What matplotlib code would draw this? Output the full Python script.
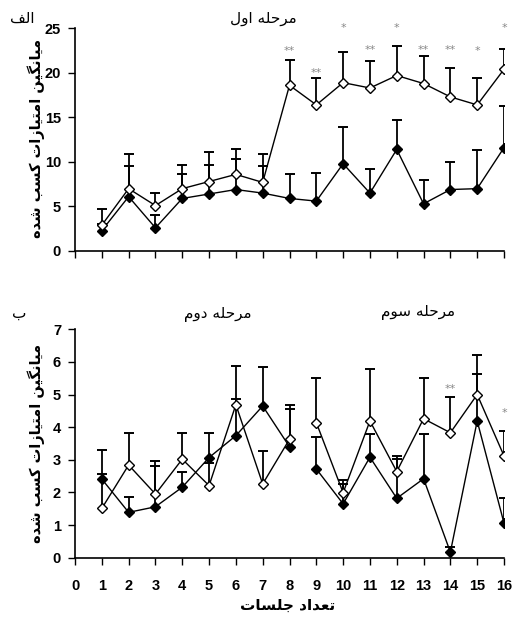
import numpy as np
import matplotlib
matplotlib.use("Agg")
import matplotlib.pyplot as plt

# ---------------- data ----------------
sessions = np.arange(1, 17)
x_ticks = np.arange(0, 17)

top_open = [2.9, 7.0, 5.1, 7.0, 7.8, 8.6, 7.7, 18.6, 16.4, 18.9, 18.3, 19.7, 18.8, 17.3, 16.4, 20.4]
top_open_upper = [4.7, 10.9, 6.5, 9.7, 11.1, 11.4, 10.9, 21.4, 19.4, 22.3, 21.3, 23.0, 21.9, 20.5, 19.4, 22.7]
top_filled = [2.3, 6.1, 2.6, 5.9, 6.4, 6.9, 6.5, 5.9, 5.6, 9.8, 6.5, 11.4, 5.3, 6.9, 7.0, 11.6]
top_filled_upper = [3.0, 9.5, 4.0, 8.6, 9.7, 10.3, 9.5, 8.6, 8.75, 13.9, 9.2, 14.7, 8.0, 10.0, 11.3, 16.3]

bot_open = [1.51, 2.84, 1.95, 3.02, 2.21, 4.69, 2.26, 3.63, 4.14, 1.99, 4.19, 2.64, 4.26, 3.83, 5.0, 3.12]
bot_open_upper = [2.55, 3.83, 2.97, 3.83, 2.89, 5.87, 3.28, 4.69, 5.51, 2.38, 5.77, 3.12, 5.51, 4.91, 6.2, 3.88]
bot_filled = [2.41, 1.39, 1.56, 2.16, 3.07, 3.74, 4.65, 3.40, 2.72, 1.65, 3.08, 1.82, 2.42, 0.17, 4.19, 1.06]
bot_filled_upper = [3.31, 1.86, 2.81, 2.63, 3.83, 4.86, 5.85, 4.57, 3.71, 2.26, 3.79, 3.04, 3.79, 0.33, 5.63, 1.82]

top_star_sessions = [8, 9, 10, 11, 12, 13, 14, 15, 16]
top_star_labels = ['**', '**', '*', '**', '*', '**', '**', '*', '*']
top_star_y = [22.5, 20.0, 25.0, 22.6, 25.0, 22.6, 22.6, 22.4, 25.0]
bot_star_sessions = [14, 16]
bot_star_labels = ['**', '*']
bot_star_y = [5.17, 4.45]

top_title = "مرحله اول"
bot_title_2 = "مرحله دوم"
bot_title_3 = "مرحله سوم"
panel_a = "الف"
panel_b = "ب"
ylabel_text = "میانگین امتیازات کسب شده"
xlabel_text = "تعداد جلسات"

# ---------------- Arabic/Persian shaping ----------------
FORMS = {
    'ا': ('\uFE8D', '\uFE8E'), 'د': ('\uFEA9', '\uFEAA'), 'ر': ('\uFEAD', '\uFEAE'),
    'ز': ('\uFEAF', '\uFEB0'), 'و': ('\uFEED', '\uFEEE'),
    'ب': ('\uFE8F', '\uFE90', '\uFE91', '\uFE92'), 'ت': ('\uFE95', '\uFE96', '\uFE97', '\uFE98'),
    'ج': ('\uFE9D', '\uFE9E', '\uFE9F', '\uFEA0'), 'ح': ('\uFEA1', '\uFEA2', '\uFEA3', '\uFEA4'),
    'س': ('\uFEB1', '\uFEB2', '\uFEB3', '\uFEB4'), 'ش': ('\uFEB5', '\uFEB6', '\uFEB7', '\uFEB8'),
    'ع': ('\uFEC9', '\uFECA', '\uFECB', '\uFECC'), 'ف': ('\uFED1', '\uFED2', '\uFED3', '\uFED4'),
    'ل': ('\uFEDD', '\uFEDE', '\uFEDF', '\uFEE0'), 'م': ('\uFEE1', '\uFEE2', '\uFEE3', '\uFEE4'),
    'ن': ('\uFEE5', '\uFEE6', '\uFEE7', '\uFEE8'), 'ه': ('\uFEE9', '\uFEEA', '\uFEEB', '\uFEEC'),
    'ی': ('\uFBFC', '\uFBFD', '\uFBFE', '\uFBFF'), 'ک': ('\uFB8E', '\uFB8F', '\uFB90', '\uFB91'),
    'گ': ('\uFB92', '\uFB93', '\uFB94', '\uFB95'),
}


def shape(s):
    out = []
    for i, ch in enumerate(s):
        if ch not in FORMS:
            out.append(ch)
            continue
        f = FORMS[ch]
        prev = s[i - 1] if i > 0 else None
        nxt = s[i + 1] if i + 1 < len(s) else None
        jp = prev in FORMS and len(FORMS[prev]) == 4
        jn = len(f) == 4 and nxt in FORMS
        if len(f) == 2:
            out.append(f[1] if jp else f[0])
        elif jp and jn:
            out.append(f[3])
        elif jp:
            out.append(f[1])
        elif jn:
            out.append(f[2])
        else:
            out.append(f[0])
    return ''.join(reversed(out))


# ---------------- figure ----------------
plt.rcParams['font.family'] = ['Liberation Sans', 'DejaVu Sans']
fig = plt.figure(figsize=(5.12, 6.18), dpi=100)
L, W = 75 / 512, (504 - 75) / 512
ax1 = fig.add_axes([L, 1 - 251 / 618, W, (251 - 28.3) / 618])
ax2 = fig.add_axes([L, 1 - 557.7 / 618, W, (557.7 - 329.3) / 618])

LW = 1.0
MS = 5.0


def draw_series(ax, xs, ys, ups, filled):
    xs = np.asarray(xs)
    ys = np.asarray(ys)
    ups = np.asarray(ups)
    ax.vlines(xs, ys, ups, color='black', lw=1.3, zorder=2)
    ax.plot(xs, ups, ls='none', marker='_', ms=7.5, mew=1.4, color='black', zorder=2)
    ax.plot(xs, ys, color='black', lw=LW, marker='D', ms=MS, mew=1.0,
            mfc='black' if filled else 'white', mec='black', zorder=3 if filled else 4)


def style(ax, ylim, yticks, show_xlabels):
    for s in ['top', 'right']:
        ax.spines[s].set_visible(False)
    for s in ['left', 'bottom']:
        ax.spines[s].set_linewidth(1.2)
    ax.set_xlim(0, 16)
    ax.set_ylim(*ylim)
    ax.set_xticks(x_ticks)
    ax.set_yticks(yticks)
    ax.tick_params(axis='both', direction='out', length=5, width=1.0, colors='black')
    ax.tick_params(axis='y', pad=5, labelsize=10.5)
    ax.tick_params(axis='x', pad=10, labelsize=10.5)
    for lab in ax.get_yticklabels() + ax.get_xticklabels():
        lab.set_fontweight('bold')
    if not show_xlabels:
        ax.set_xticklabels([])


# top panel
draw_series(ax1, sessions, top_filled, top_filled_upper, True)
draw_series(ax1, sessions, top_open, top_open_upper, False)
style(ax1, (0, 25), np.arange(0, 26, 5), False)
for s, lab, y in zip(top_star_sessions, top_star_labels, top_star_y):
    ax1.text(s, y, lab, ha='center', va='center', color='#888888', fontsize=8,
             family='DejaVu Sans', clip_on=False)

# bottom panel (two separate segments)
seg1 = sessions <= 8
seg2 = sessions >= 9
for seg in (seg1, seg2):
    draw_series(ax2, sessions[seg], np.asarray(bot_filled)[seg], np.asarray(bot_filled_upper)[seg], True)
    draw_series(ax2, sessions[seg], np.asarray(bot_open)[seg], np.asarray(bot_open_upper)[seg], False)
style(ax2, (0, 7), np.arange(0, 8, 1), True)
for s, lab, y in zip(bot_star_sessions, bot_star_labels, bot_star_y):
    ax2.text(s, y, lab, ha='center', va='center', color='#888888', fontsize=8,
             family='DejaVu Sans', clip_on=False)

# texts
ar = dict(family='DejaVu Sans', color='black')
fig.text(263 / 512, 1 - 18 / 618, shape(top_title), ha='center', va='center', fontsize=11, **ar)
fig.text(218 / 512, 1 - 315 / 618, shape(bot_title_2), ha='center', va='center', fontsize=11, **ar)
fig.text(418 / 512, 1 - 313 / 618, shape(bot_title_3), ha='center', va='center', fontsize=11, **ar)
fig.text(22 / 512, 1 - 18 / 618, shape(panel_a), ha='center', va='center', fontsize=11, **ar)
fig.text(19 / 512, 1 - 313 / 618, shape(panel_b), ha='center', va='center', fontsize=11, **ar)
fig.text(36 / 512, 1 - 138 / 618, shape(ylabel_text), ha='center', va='center', rotation=90,
         fontsize=10.5, fontweight='bold', **ar)
fig.text(36 / 512, 1 - 443 / 618, shape(ylabel_text), ha='center', va='center', rotation=90,
         fontsize=10.5, fontweight='bold', **ar)
fig.text(288 / 512, 1 - 605 / 618, shape(xlabel_text), ha='center', va='center',
         fontsize=11, fontweight='bold', **ar)

fig.savefig('out.png', dpi=100)
